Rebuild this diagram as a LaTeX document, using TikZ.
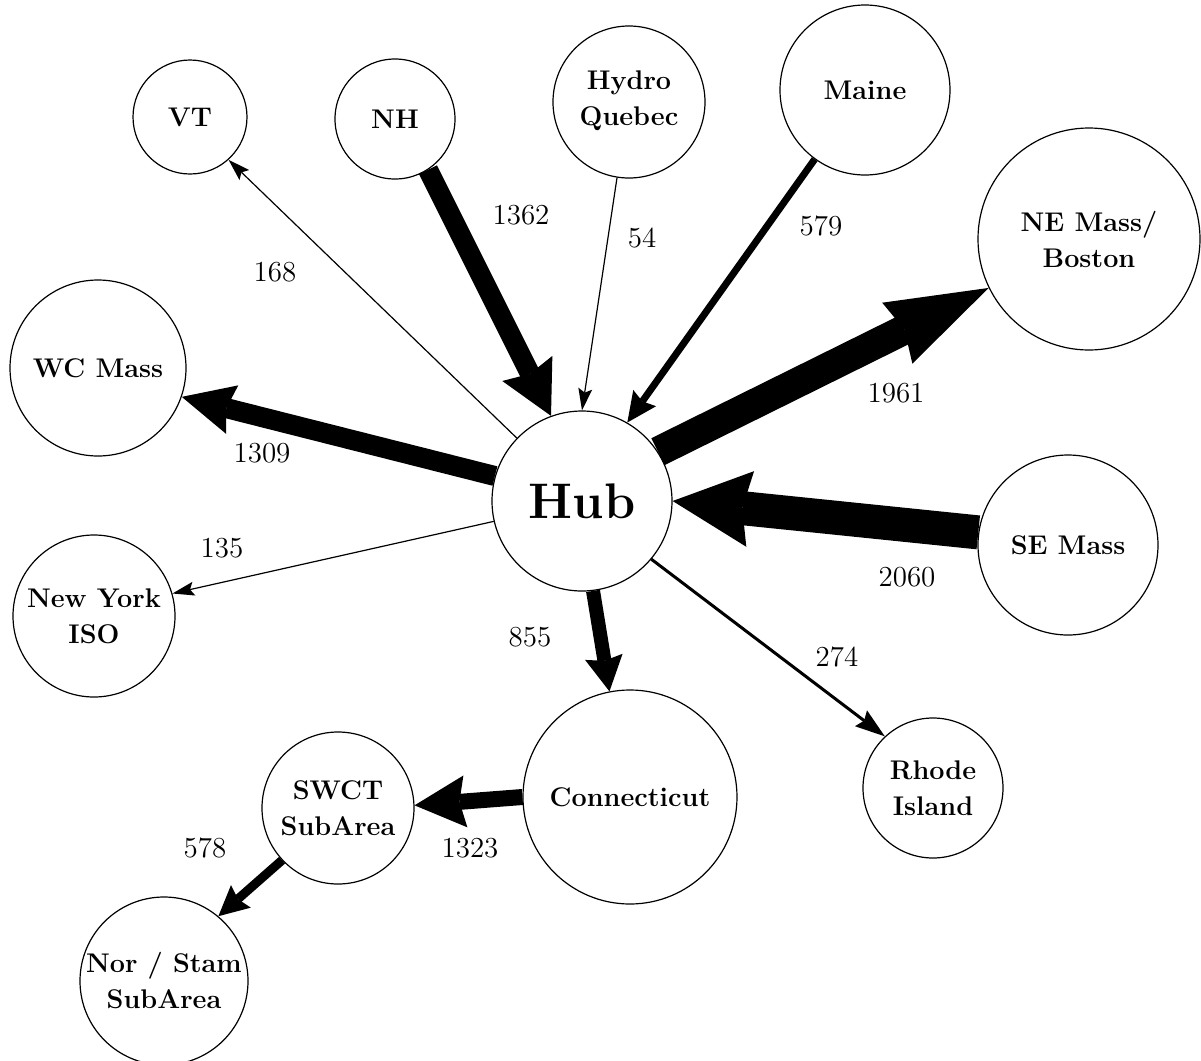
\documentclass[tikz,border=0pt]{standalone}
\usepackage{tikz}
\usepackage{xcolor}
\usetikzlibrary{arrows.meta}

\begin{document}
\begin{tikzpicture}[x=0.5pt,y=-0.5pt,
        area/.style={circle,draw,line width=0.6pt,inner sep=0pt,align=center,
            font=\fontsize{13.5}{18}\selectfont\bfseries},
        flow/.style n args={4}{line width=#1,
            -{Stealth[length=#2,width=#3,inset=#4,line width=0pt]}},
        amount/.style={font=\fontsize{14.5}{17}\selectfont}]
                \useasboundingbox (0,0) rectangle (1201,1061);

                \node (hub) at (582,501) [area,minimum size=90pt,font=\fontsize{25}{30}\selectfont\bfseries] {Hub};
                \node (vt) at (190,117) [area,minimum size=57pt] {VT};
                \node (nh) at (395,119) [area,minimum size=60pt] {NH};
                \node (hq) at (629,102) [area,minimum size=76pt,text depth=4pt] {Hydro\\Quebec};
                \node (maine) at (865,90) [area,minimum size=85pt] {Maine};
                \node (nemass) at (1089,239) [area,minimum size=111pt] {NE Mass/\\Boston};
                \node (wcmass) at (98,368) [area,minimum size=88pt] {WC Mass};
                \node (semass) at (1068,545) [area,minimum size=90pt] {SE Mass};
                \node (nyiso) at (94,616) [area,minimum size=81pt] {New York\\ISO};
                \node (ct) at (630,797) [area,minimum size=107pt] {Connecticut};
                \node (ri) at (933,788) [area,minimum size=70pt] {Rhode\\Island};
                \node (swct) at (338,808) [area,minimum size=76pt] {SWCT\\SubArea};
                \node (norstam) at (164,981) [area,minimum size=84pt] {Nor / Stam\\SubArea};

                \draw[flow={0.6pt}{11pt}{7pt}{2pt}] (hub.136) -- (vt.-48);
                \draw[flow={10pt}{26.5pt}{28pt}{3pt}] (nh.-57) -- (hub.110);
                \draw[flow={0.6pt}{11pt}{7pt}{2pt}] (hq.-99) -- (hub.90);
                \draw[flow={3.5pt}{15pt}{14pt}{2pt}] (maine.-126) -- (hub.60);
                \draw[flow={15pt}{51pt}{34pt}{4pt}] (hub.33) -- (nemass.-154);
                \draw[flow={10pt}{26pt}{25pt}{3pt}] (hub.164) -- (wcmass.-19);
                \draw[flow={0.6pt}{11pt}{7pt}{2pt}] (hub.193) -- (nyiso.16);
                \draw[flow={17pt}{39pt}{38pt}{4pt}] (semass.172) -- (hub.0);
                \draw[flow={7pt}{17.5pt}{19pt}{2pt}] (hub.-83) -- (ct.101);
                \draw[flow={1.5pt}{15pt}{10pt}{2pt}] (hub.-40) -- (ri.133);
                \draw[flow={8pt}{25.5pt}{26pt}{3pt}] (ct.180) -- (swct.2);
                \draw[flow={4.5pt}{15pt}{15pt}{2pt}] (swct.-137) -- (norstam.50);

                \node (q168) at (275,272) [amount] {168};
                \node (q1362) at (521,215) [amount] {1362};
                \node (q54) at (642,238) [amount] {54};
                \node (q579) at (821,226) [amount] {579};
                \node (q1961) at (896,393) [amount] {1961};
                \node (q1309) at (262,453) [amount] {1309};
                \node (q135) at (222,548) [amount] {135};
                \node (q2060) at (907,577) [amount] {2060};
                \node (q855) at (530,637) [amount] {855};
                \node (q274) at (837,657) [amount] {274};
                \node (q1323) at (470,848) [amount] {1323};
                \node (q578) at (205,848) [amount] {578};
\end{tikzpicture}
\end{document}
